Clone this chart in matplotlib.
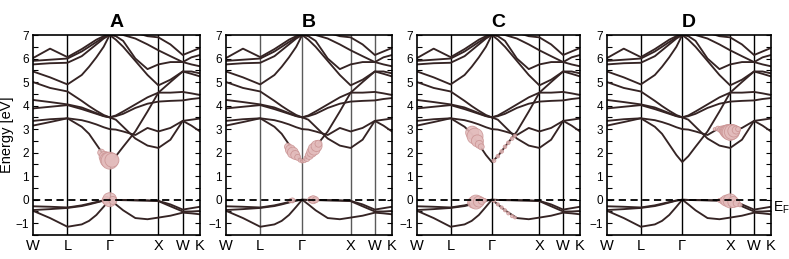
import numpy as np
import matplotlib
matplotlib.use('Agg')
from matplotlib import pyplot as plt
from matplotlib import rcParams

rcParams['font.family'] = 'sans-serif'
rcParams['font.sans-serif'] = ['Liberation Sans', 'DejaVu Sans']
rcParams['mathtext.default'] = 'regular'

# k path W - L - Gamma - X - W - K (path length, 2pi/a)
kpts = [0.0, 0.35, 0.707, 1.0, 1.15, 1.3, 1.45, 1.573, 1.7, 1.85, 2.1, 2.35,
        2.573, 2.82, 3.073, 3.25, 3.427]
sym_k = [0.0, 0.707, 1.573, 2.573, 3.073, 3.427]
sym_lbl = ['W', 'L', 'Γ', 'X', 'W', 'K']

# band energies (eV) read at kpts
v1 = [-0.28, -0.30, -0.33, -0.24, -0.17, -0.10, -0.03, 0.00, -0.01, -0.01, -0.02, -0.03, -0.05, -0.20, -0.42, -0.36, -0.30]
v2 = [-0.44, -0.40, -0.35, -0.27, -0.20, -0.12, -0.04, 0.00, -0.20, -0.45, -0.78, -0.83, -0.76, -0.68, -0.55, -0.58, -0.62]
v3 = [-0.47, -0.78, -1.15, -1.05, -0.90, -0.65, -0.30, 0.00, -0.01, -0.02, -0.03, -0.04, -0.06, -0.28, -0.50, -0.50, -0.48]
c1 = [3.15, 3.30, 3.46, 3.10, 2.80, 2.35, 1.90, 1.60, 1.85, 2.25, 2.90, 3.75, 4.55, 4.55, 4.58, 4.52, 4.45]
c2 = [3.35, 3.42, 3.46, 3.38, 3.30, 3.20, 3.08, 3.00, 2.98, 2.90, 2.75, 3.05, 2.90, 3.05, 3.35, 3.40, 3.45]
c3 = [3.88, 3.95, 4.02, 3.85, 3.75, 3.65, 3.55, 3.50, 3.40, 3.10, 2.60, 2.30, 2.20, 2.55, 3.35, 3.15, 2.90]
c4 = [4.24, 4.15, 4.05, 3.92, 3.80, 3.68, 3.56, 3.50, 3.55, 3.65, 3.90, 4.08, 4.17, 4.20, 4.22, 4.28, 4.32]
c5 = [5.00, 4.75, 4.60, 4.20, 3.98, 3.78, 3.60, 3.50, 3.58, 3.75, 4.05, 4.35, 4.55, 5.00, 5.45, 5.45, 5.37]
c6 = [5.45, 5.20, 4.90, 5.30, 5.65, 6.05, 6.50, 7.00, 6.80, 6.50, 5.90, 5.30, 4.86, 5.10, 5.45, 5.35, 5.24]
c7 = [5.75, 5.80, 5.82, 6.10, 6.35, 6.60, 6.85, 7.00, 6.95, 6.75, 6.00, 5.55, 5.75, 5.85, 5.85, 5.75, 5.67]
c8 = [5.90, 5.95, 6.00, 6.30, 6.50, 6.70, 6.90, 7.00, 7.05, 7.00, 6.85, 6.60, 6.35, 6.10, 5.85, 6.05, 6.15]
c9 = [6.02, 6.42, 6.06, 6.40, 6.60, 6.80, 6.95, 7.00, 7.10, 7.20, 7.10, 6.95, 6.90, 6.60, 6.15, 6.30, 6.45]
bands = [v1, v2, v3, c1, c2, c3, c4, c5, c6, c7, c8, c9]

# fat-band circles: k, energy, radius (px)
fatA_k = [1.40, 1.47, 1.53, 1.573, 1.62, 1.50, 1.573, 1.64]
fatA_e = [2.00, 1.82, 1.70, 1.66, 1.68, -0.03, 0.00, -0.03]
fatA_r = [3.5, 5.5, 7.5, 8.5, 7.0, 4.0, 7.0, 4.0]

fatB_k = [1.28, 1.33, 1.38, 1.43, 1.48, 1.53, 1.573, 1.62, 1.67, 1.72, 1.77, 1.82, 1.87, 1.91, 1.33, 1.37, 1.75, 1.80, 1.85]
fatB_e = [2.25, 2.12, 2.00, 1.90, 1.80, 1.68, 1.62, 1.66, 1.75, 1.88, 2.02, 2.15, 2.28, 2.38, -0.04, -0.03, 0.00, 0.00, 0.00]
fatB_r = [3.5, 5.0, 5.5, 4.5, 3.0, 2.0, 1.5, 2.0, 3.0, 4.0, 5.0, 6.0, 5.5, 3.5, 2.0, 2.5, 3.0, 4.0, 3.0]

fatC_k = [1.16, 1.22, 1.27, 1.31, 1.35, 1.62, 1.70, 1.78, 1.85, 1.92, 2.00, 2.06,
          1.18, 1.24, 1.30, 1.36, 1.42, 1.62, 1.70, 1.78, 1.85, 1.92, 2.00, 2.06]
fatC_e = [2.85, 2.70, 2.50, 2.35, 2.25, 1.66, 1.85, 2.05, 2.25, 2.42, 2.60, 2.72,
          -0.12, -0.10, -0.08, -0.05, -0.03, -0.05, -0.20, -0.33, -0.45, -0.58, -0.70, -0.76]
fatC_r = [6.5, 8.0, 6.0, 4.0, 3.0, 1.8, 1.8, 1.8, 1.8, 1.8, 1.8, 1.6,
          5.5, 7.0, 5.5, 3.5, 2.0, 1.6, 1.6, 1.6, 1.6, 1.6, 1.6, 1.4]

fatD_k = [2.25, 2.32, 2.39, 2.45, 2.50, 2.54, 2.573, 2.61, 2.65, 2.70, 2.74,
          2.35, 2.42, 2.49, 2.573, 2.64, 2.71, 2.78]
fatD_e = [3.00, 3.02, 2.98, 2.94, 2.90, 2.88, 2.86, 2.88, 2.92, 2.96, 3.00,
          -0.03, -0.04, -0.04, -0.05, -0.10, -0.15, -0.22]
fatD_r = [1.5, 2.5, 3.5, 5.0, 6.5, 7.5, 8.0, 7.5, 6.0, 4.0, 2.5,
          2.0, 3.5, 5.5, 7.0, 5.5, 3.5, 2.0]

panels = ['A', 'B', 'C', 'D']
fat_k = [fatA_k, fatB_k, fatC_k, fatD_k]
fat_e = [fatA_e, fatB_e, fatC_e, fatD_e]
fat_r = [fatA_r, fatB_r, fatC_r, fatD_r]

W, H = 789, 259
fig = plt.figure(figsize=(W / 100, H / 100), dpi=100)
# axes boxes in pixels: left, right
boxes = [(33, 200), (226, 392), (417, 580), (607, 771)]
top, bot = 35, 235
vline_col = ['black', '#5a5a5a', 'black', 'black']

for i, (x0, x1) in enumerate(boxes):
    ax = fig.add_axes([x0 / W, (H - bot) / H, (x1 - x0) / W, (bot - top) / H])
    for b in bands:
        ax.plot(kpts, b, color='#352424', lw=1.35, zorder=2)
    s = (2 * np.array(fat_r[i]) * 0.72) ** 2
    ax.scatter(fat_k[i], fat_e[i], s=s, facecolor='#e3bcbc', edgecolor='#c99292',
               linewidth=0.6, alpha=0.85, zorder=3)
    for k in sym_k[1:-1]:
        ax.axvline(k, color=vline_col[i], lw=1.0, zorder=1)
    ax.axhline(0, color='black', lw=1.3, ls=(0, (4, 2.5)), zorder=4)

    ax.set_xlim(0, 3.427)
    ax.set_ylim(-1.5, 7)
    ax.set_xticks(sym_k)
    ax.set_xticklabels(sym_lbl, fontsize=10.5)
    ax.tick_params(axis='x', length=0, pad=3)
    ax.set_yticks(np.arange(-1, 8))
    ax.set_yticks(np.arange(-1.5, 7.01, 0.5), minor=True)
    ax.tick_params(axis='y', which='both', direction='in', left=True, right=True,
                   length=3.5, width=0.8, labelsize=8.5, pad=3)
    for sp in ax.spines.values():
        sp.set_linewidth(1.2)
    ax.set_title(panels[i], fontsize=14, fontweight='bold', pad=6)
    if i == 0:
        ax.set_ylabel('Energy [eV]', fontsize=10.5, labelpad=1)
    if i == 3:
        ax.text(1.01, -0.35, r'E$_F$', transform=ax.get_yaxis_transform(),
                fontsize=10, ha='left', va='center')

fig.savefig('out.png', dpi=100)
